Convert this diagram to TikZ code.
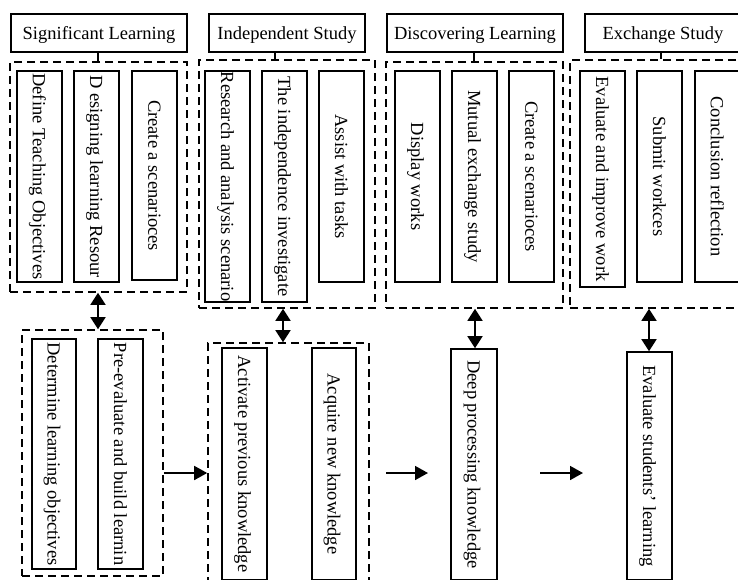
\documentclass[tikz,border=0pt]{standalone}
\usepackage{fontspec}
\setmainfont{Liberation Serif}
\usetikzlibrary{arrows.meta}
\newcommand\vtxt[1]{\rotatebox{-90}{\raisebox{0pt}[\height][0pt]{#1}}}
\tikzset{
  hdr/.style={draw, line width=1.6pt, minimum height=38pt, inner sep=0pt, text depth=0pt, font={\fontsize{18.5}{20}\selectfont}},
  vb/.style={draw, fill=white, line width=1.6pt, minimum width=45pt, inner sep=0pt, font={\fontsize{18.5}{20}\selectfont}},
  grp/.style={draw, line width=1.6pt, dash pattern=on 8pt off 5pt, inner sep=0pt},
  link/.style={line width=1.6pt},
  arr/.style={line width=1.6pt, -{Triangle[length=13pt,width=14pt]}},
  darr/.style={line width=1.6pt, {Triangle[length=12pt,width=15pt]}-{Triangle[length=12pt,width=15pt]}},
}
\begin{document}
\begin{tikzpicture}[x=1pt,y=-1pt]
\useasboundingbox (0,0) rectangle (738,579);
\clip (0,0) rectangle (738,579);
% headers
\node[hdr, minimum width=176pt] (h1) at (99,33) {Significant Learning};
\node[hdr, minimum width=156pt] (h2) at (287,33) {Independent Study};
\node[hdr, minimum width=176pt] (h3) at (475,33) {Discovering Learning};
\node[hdr, minimum width=156pt] (h4) at (663,33) {Exchange Study};
% top groups
\node[grp, minimum width=177pt, minimum height=230pt] (g1) at (98.5,177) {};
\node[grp, minimum width=176pt, minimum height=248pt] (g2) at (287,184) {};
\node[grp, minimum width=177pt, minimum height=246pt] (g3) at (474.5,185) {};
\node[grp, minimum width=180pt, minimum height=248pt] (g4) at (660,184) {};
% bottom groups
\node[grp, minimum width=141pt, minimum height=246pt] (gb1) at (92.5,453) {};
\node[grp, minimum width=161pt, minimum height=250pt] (gb2) at (288.5,468) {};
% group 1 boxes
\node[vb, minimum height=211pt] (b11) at (39.5,176.5) {\vtxt{Define Teaching Objectives}};
\node[vb, minimum height=211pt] (b12) at (96.5,176.5) {\vtxt{D esigning learning Resour}};
\node[vb, minimum height=209pt] (b13) at (154.5,175.5) {\vtxt{Create a scenarioces}};
% group 2 boxes
\node[vb, minimum height=231pt] (b21) at (227.5,186.5) {\vtxt{Research and analysis scenario}};
\node[vb, minimum height=231pt] (b22) at (284.5,186.5) {\vtxt{The independence investigate}};
\node[vb, minimum height=211pt] (b23) at (341.5,176.5) {\vtxt{Assist with tasks}};
% group 3 boxes
\node[vb, minimum height=211pt] (b31) at (417.5,176.5) {\vtxt{Display works}};
\node[vb, minimum height=211pt] (b32) at (474.5,176.5) {\vtxt{Mutual exchange study}};
\node[vb, minimum height=211pt] (b33) at (531.5,176.5) {\vtxt{Create a scenarioces}};
% group 4 boxes
\node[vb, minimum height=216pt] (b41) at (602.5,179) {\vtxt{Evaluate and improve work}};
\node[vb, minimum height=211pt] (b42) at (659.5,176.5) {\vtxt{Submit workces}};
\node[vb, minimum height=211pt] (b43) at (717.5,176.5) {\vtxt{Conclusion reflection}};
% bottom boxes
\node[vb, minimum width=44pt, minimum height=230pt] (b51) at (54,454) {\vtxt{Determine learning objectives}};
\node[vb, minimum height=230pt] (b52) at (120.5,454) {\vtxt{Pre-evaluate and build learnin}};
\node[vb, minimum height=232pt] (b61) at (244.5,464) {\vtxt{Activate previous knowledge}};
\node[vb, minimum width=44pt, minimum height=232pt] (b62) at (334,464) {\vtxt{Acquire new knowledge}};
\node[vb, minimum width=46pt, minimum height=231pt] (b7) at (474,464.5) {\vtxt{Deep processing knowledge}};
\node[vb, minimum height=228pt] (b8) at (649.5,466) {\vtxt{Evaluate students' learning}};
% header links
\coordinate (x1) at (98,0);
\coordinate (x2) at (275,0);
\coordinate (x3) at (474,0);
\coordinate (x4) at (661,0);
\draw[link] (h1.south -| x1) -- (g1.north -| x1);
\draw[link] (h2.south -| x2) -- (g2.north -| x2);
\draw[link] (h3.south -| x3) -- (g3.north -| x3);
\draw[link] (h4.south -| x4) -- (g4.north -| x4);
% double arrows
\coordinate (d1) at (98,0);
\coordinate (d2) at (283,0);
\coordinate (d3) at (475,0);
\coordinate (d4) at (649,0);
\draw[darr] (g1.south -| d1) -- (gb1.north -| d1);
\draw[darr] (g2.south -| d2) -- (gb2.north -| d2);
\draw[darr] (g3.south -| d3) -- (b7.north -| d3);
\draw[darr] (g4.south -| d4) -- (b8.north -| d4);
% horizontal arrows
\coordinate (ay) at (0,473);
\draw[arr] (gb1.east |- ay) -- (gb2.west |- ay);
\coordinate (a2s) at (386,473);
\coordinate (a2e) at (428,473);
\draw[arr] (a2s) -- (a2e);
\coordinate (a3s) at (540,473);
\coordinate (a3e) at (583,473);
\draw[arr] (a3s) -- (a3e);
\end{tikzpicture}
\end{document}
